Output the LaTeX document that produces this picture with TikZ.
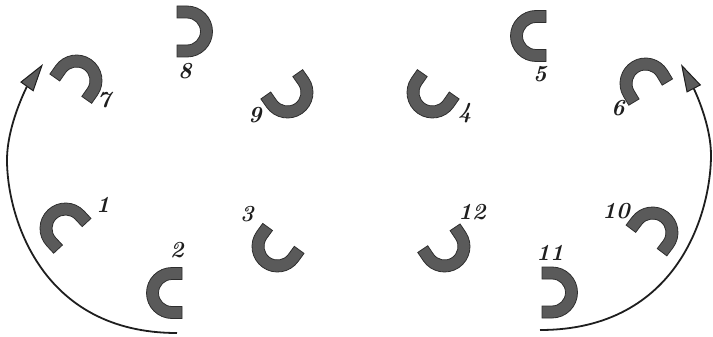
\documentclass[tikz,border=0pt]{standalone}
\usetikzlibrary{arrows.meta}
\definecolor{piecefill}{HTML}{5A5A5A}
\definecolor{pieceline}{HTML}{2E2E2E}
\definecolor{inkc}{HTML}{1E1E1E}
\tikzset{
  horseshoe/.pic={
    \filldraw[fill=piecefill, draw=pieceline, line width=0.8pt]
      (10,25.5) -- (0,25.5) arc[start angle=90,end angle=270,radius=25.5]
      -- (10,-25.5) -- (10,-13.5) -- (0,-13.5)
      arc[start angle=270,end angle=90,radius=13.5] -- (10,13.5) -- cycle;
  },
  numlabel/.style={font=\fontsize{23}{24}\selectfont\bfseries\itshape, text=inkc, inner sep=0pt},
  flowarrow/.style={draw=inkc, line width=1.8pt,
    -{Triangle[length=28pt,width=16pt,fill=piecefill,line width=1pt]}},
}
\begin{document}
\begin{tikzpicture}[x=1pt,y=-1pt]
\useasboundingbox (0,0) rectangle (713,337);
% pieces
\pic (p1) [rotate=-47] at (65.5,228.5) {horseshoe};
\pic (p2) at (172,293) {horseshoe};
\pic (p3) [rotate=54] at (277.5,246.5) {horseshoe};
\pic (p4) [rotate=55] at (432.5,92.5) {horseshoe};
\pic (p5) at (536,36) {horseshoe};
\pic (p6) [rotate=-59] at (645.5,83.5) {horseshoe};
\pic (p7) [rotate=235] at (76.5,80.5) {horseshoe};
\pic (p8) [rotate=180] at (187,31.5) {horseshoe};
\pic (p9) [rotate=125] at (287.5,92.5) {horseshoe};
\pic (p10) [rotate=233] at (652.5,232.5) {horseshoe};
\pic (p11) [rotate=180] at (552,292.5) {horseshoe};
\pic (p12) [rotate=124] at (444.5,246.5) {horseshoe};
% labels
\node[numlabel] (l1) at (103,205) {1};
\node[numlabel] (l2) at (177,250) {2};
\node[numlabel] (l3) at (247,214) {3};
\node[numlabel] (l4) at (465,113) {4};
\node[numlabel] (l5) at (540,74) {5};
\node[numlabel] (l6) at (618,108) {6};
\node[numlabel] (l7) at (104,100) {7};
\node[numlabel] (l8) at (185,71) {8};
\node[numlabel] (l9) at (255,115) {9};
\node[numlabel] (l10) at (616,211) {10};
\node[numlabel] (l11) at (550,253) {11};
\node[numlabel] (l12) at (472,212) {12};
% arrows
\coordinate (la0) at (177,333);
\coordinate (la1) at (7,160);
\coordinate (la2) at (43,64);
\draw[flowarrow] (la0) .. controls (40,333) and (7,215) .. (la1)
  .. controls (7,125) and (27,86.5) .. (la2);
\coordinate (ra0) at (540,330);
\coordinate (ra1) at (711,155);
\coordinate (ra2) at (681,64);
\draw[flowarrow] (ra0) .. controls (679,330) and (711,211) .. (ra1)
  .. controls (711,125) and (695,91) .. (ra2);
\end{tikzpicture}
\end{document}
